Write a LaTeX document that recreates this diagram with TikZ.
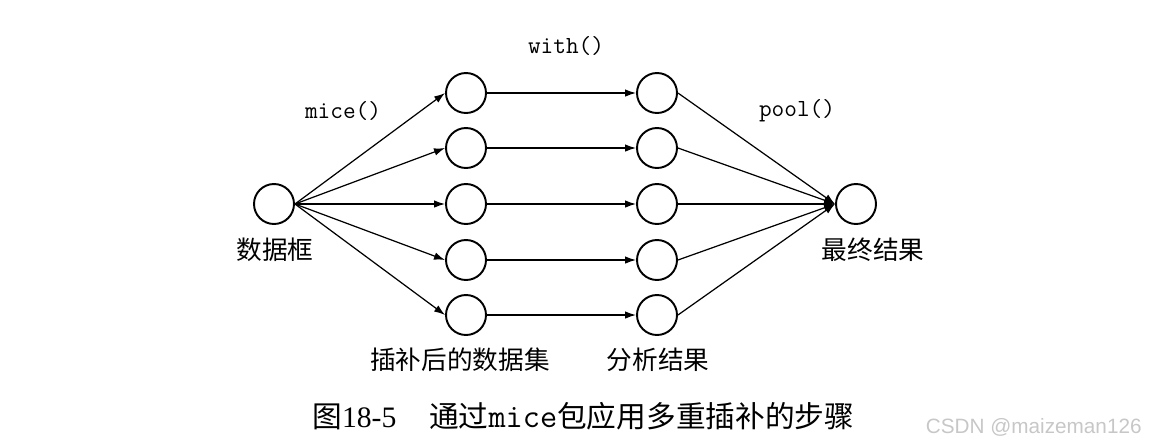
\documentclass[tikz,border=0pt]{standalone}
\usepackage{fontspec}
\setmainfont{Liberation Serif}
\newfontfamily\cjk{Noto Sans CJK SC}
\newfontfamily\wmfont{Liberation Sans}
\usetikzlibrary{arrows.meta}

\begin{document}
\begin{tikzpicture}[x=0.02cm,y=-0.02cm,every node/.style={circle},
    ball/.style={draw,line width=1.1pt,minimum size=0.8cm,inner sep=0pt},
    lbl/.style={rectangle,inner sep=0pt,font=\cjk\fontsize{14.6}{16}\selectfont},
    fn/.style={rectangle,inner sep=0pt,font=\ttfamily\fontsize{14}{16}\selectfont},
    link/.style={line width=0.7pt,-{Latex[length=2.2mm,width=1.5mm]}}]
    \useasboundingbox (0,0) rectangle (1149,447);
    \node[ball] (df) at (274,204) {};
    \foreach \i/\y in {1/93,2/148,3/204,4/260,5/315}
    {
      \node[ball] (imp\i) at (466,\y) {};
      \node[ball] (res\i) at (657,\y) {};
    }
    \node[ball] (fin) at (856,204) {};
    \foreach \i in {1,...,5}
    {
      \draw[link] (df.east) -- (imp\i.west);
      \draw[link] (imp\i) -- (res\i);
      \draw[link] (res\i.east) -- (fin.west);
    }
    % labels
    \node[fn] (lmice) at (343,111) {mice()};
    \node[fn] (lwith) at (566,46) {with()};
    \node[fn] (lpool) at (797,111) {pool()};
    \node[lbl] (ldf) at (275,250) {数据框};
    \node[lbl] (lfin) at (873,250) {最终结果};
    \node[lbl] (limp) at (460,360) {插补后的数据集};
    \node[lbl] (lres) at (658,360) {分析结果};
    \node[rectangle,inner sep=0pt,anchor=west,font=\fontsize{16.9}{19}\selectfont] (cap) at (312,416)
      {{\cjk 图}18-5\hspace{1.1em}{\cjk 通过}{\ttfamily\fontsize{19}{21}\selectfont mice}{\cjk 包应用多重插补的步骤}};
    \node[rectangle,inner sep=0pt,anchor=east,text=black!22,font=\wmfont\fontsize{11.8}{13}\selectfont] (wm) at (1142,427) {CSDN @maizeman126};
  \end{tikzpicture}
\end{document}
